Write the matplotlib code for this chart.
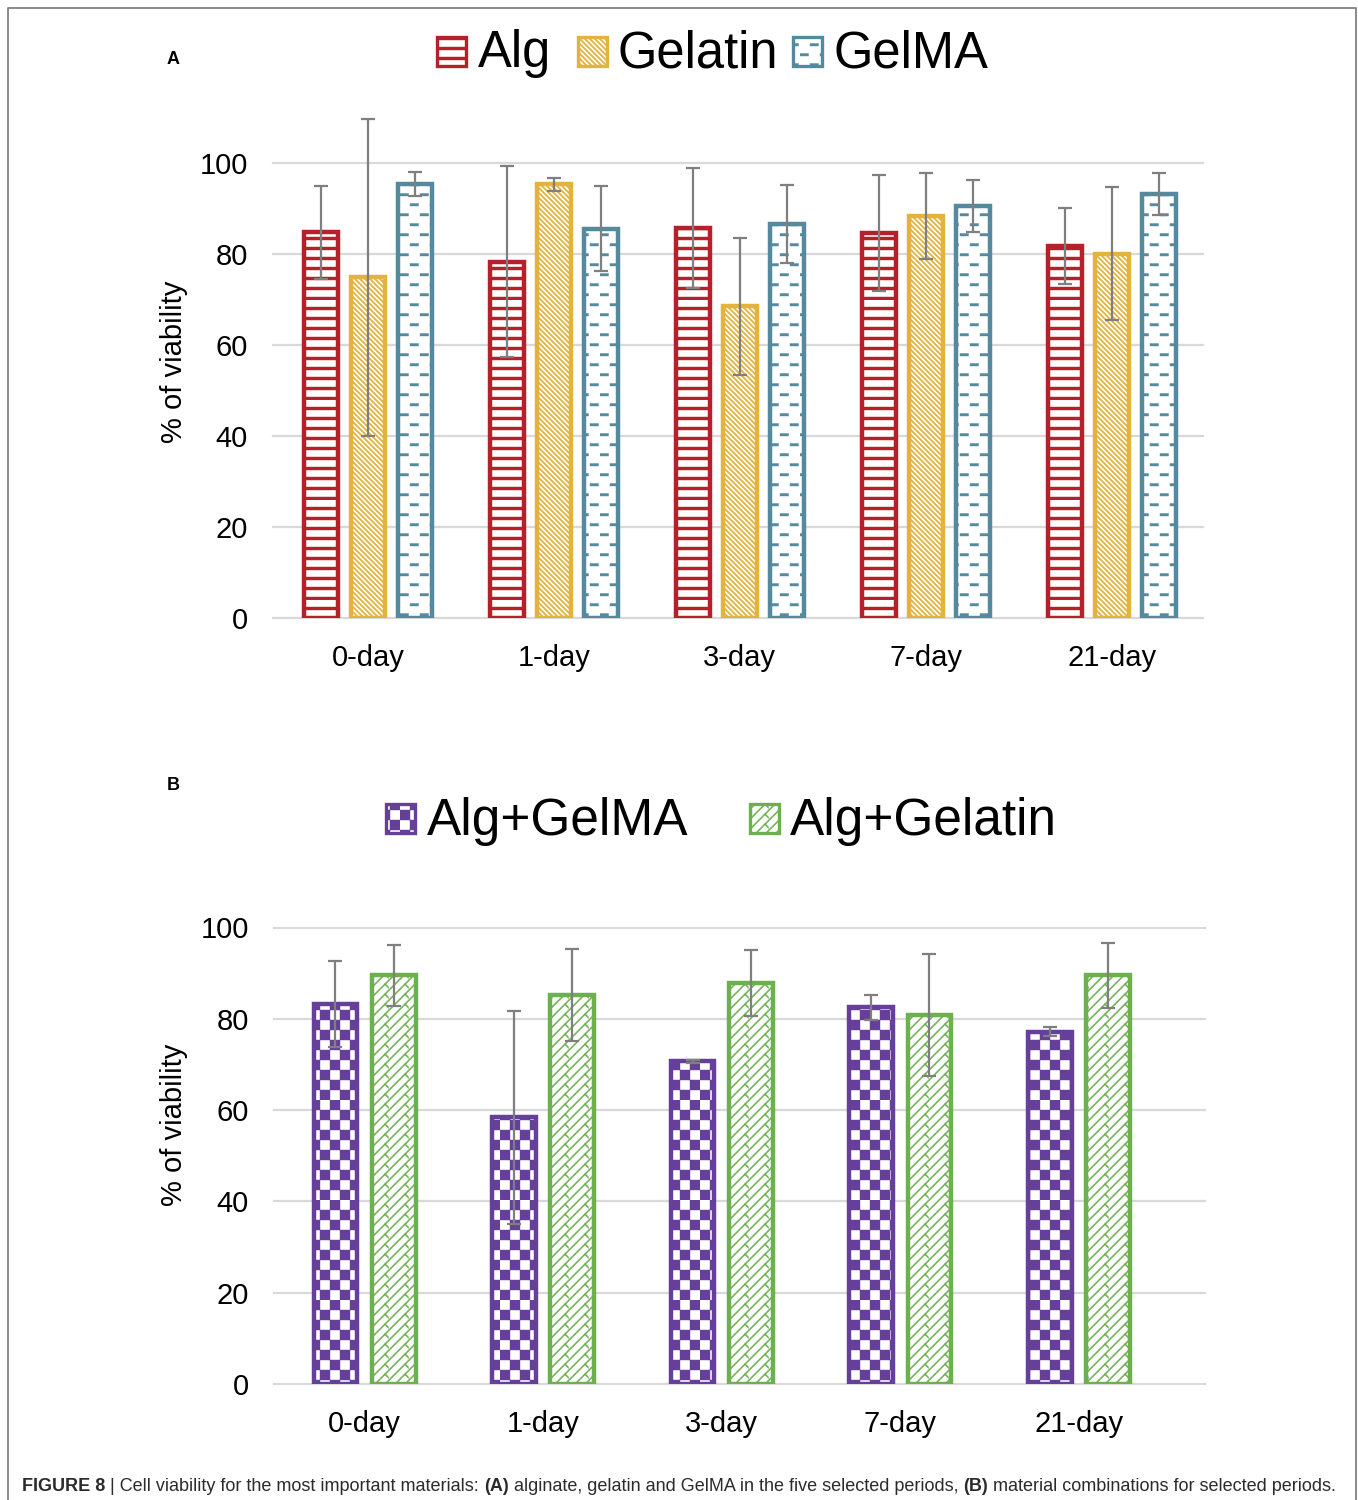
import warnings
warnings.filterwarnings('ignore')
import numpy as np
import matplotlib
matplotlib.use('Agg')
import matplotlib.pyplot as plt
import matplotlib.hatch as mhatch
from matplotlib.path import Path
from matplotlib.patches import Rectangle
from matplotlib.lines import Line2D

# ---------------- data ----------------
days = ['0-day', '1-day', '3-day', '7-day', '21-day']

alg = [84.8, 78.3, 85.7, 84.6, 81.8]
alg_err = [10.2, 21.0, 13.2, 12.7, 8.3]
gelatin = [74.9, 95.3, 68.5, 88.3, 80.1]
gelatin_err = [34.8, 1.5, 15.0, 9.5, 14.6]
gelma = [95.4, 85.6, 86.6, 90.5, 93.2]
gelma_err = [2.7, 9.4, 8.6, 5.7, 4.6]

alg_gelma = [83.2, 58.4, 70.7, 82.5, 77.2]
alg_gelma_err = [9.4, 23.3, 0.3, 2.7, 1.0]
alg_gelatin = [89.5, 85.2, 87.8, 80.9, 89.5]
alg_gelatin_err = [6.7, 10.0, 7.2, 13.4, 7.2]

series_a_names = ['Alg', 'Gelatin', 'GelMA']
series_b_names = ['Alg+GelMA', 'Alg+Gelatin']
yticks = [0, 20, 40, 60, 80, 100]
ylabel = '% of viability'

# ---------------- custom filled hatch patterns ----------------
mhatch._validate_hatch_pattern = lambda h: None


class _FilledHatch(mhatch.HatchPatternBase):
    char = '?'

    def __init__(self, hatch, density):
        self.polys = self.shapes() if (hatch and self.char in hatch) else []
        self.num_vertices = sum(len(p) + 1 for p in self.polys)

    def shapes(self):
        return []

    def set_vertices_and_codes(self, vertices, codes):
        i = 0
        for p in self.polys:
            n = len(p)
            vertices[i:i + n] = p
            vertices[i + n] = p[0]
            codes[i] = Path.MOVETO
            codes[i + 1:i + n] = Path.LINETO
            codes[i + n] = Path.CLOSEPOLY
            i += n + 1


def _rect(x0, y0, x1, y1):
    return [(x0, y0), (x1, y0), (x1, y1), (x0, y1)]


class HLines(_FilledHatch):          # Alg: thick horizontal lines
    char = 'a'

    def shapes(self):
        return [_rect(-0.05, i * 0.1, 1.05, i * 0.1 + 0.03) for i in range(10)]


class BackDiag(_FilledHatch):        # Gelatin: dense "\" diagonals
    char = 'g'

    def shapes(self):
        t = 0.02
        out = []
        for k in range(0, 41):
            c = k * 0.05
            out.append([(0, c), (1, c - 1), (1, c - 1 + t), (0, c + t)])
        return out


class Dashes(_FilledHatch):          # GelMA: dashed horizontal lines
    char = 'm'

    def shapes(self):
        out = []
        for i in range(10):
            y0 = i * 0.1 + 0.04
            off = 0.1 * (i % 2)
            for j in range(5):
                x0 = j * 0.2 + off
                out.append(_rect(x0, y0, x0 + 0.085, y0 + 0.025))
        return out


class Checker(_FilledHatch):         # Alg+GelMA: checkerboard
    char = 'c'

    def shapes(self):
        out = []
        for i in range(10):
            for j in range(10):
                if (i + j) % 2 == 0:
                    out.append(_rect(j * 0.1, i * 0.1, (j + 1) * 0.1, (i + 1) * 0.1))
        return out


class ZigDiag(_FilledHatch):         # Alg+Gelatin: "/" lines with small spurs
    char = 'z'

    def shapes(self):
        t = 0.016
        out = []
        for k in range(-11, 12):
            c = k * 0.1
            out.append([(0, c), (1, c + 1), (1, c + 1 + t), (0, c + t)])
            for m in range(0, 6):
                x = m * 0.2 + 0.05
                y = x + c
                L = 0.035
                out.append([(x, y), (x + L, y - L), (x + L, y - L + t), (x, y + t)])
        return out


mhatch._hatch_types.extend([HLines, BackDiag, Dashes, Checker, ZigDiag])

# ---------------- styling ----------------
W, H, DPI = 1358, 1500, 100
plt.rcParams['font.family'] = ['Liberation Sans', 'DejaVu Sans']
plt.rcParams['hatch.linewidth'] = 0.3

RED, GOLD, TEAL = '#B5202A', '#E3B33E', '#55899D'
PURPLE, GREEN = '#663F9B', '#6DB04F'
styles_a = [(RED, 'a'), (GOLD, 'g'), (TEAL, 'm')]
styles_b = [(PURPLE, 'c'), (GREEN, 'z')]

fig = plt.figure(figsize=(W / DPI, H / DPI), dpi=DPI)
fig.patch.set_facecolor('white')


def px(x, y):
    return x / W, 1 - y / H


def axes_rect(l, t, r, b):
    return [l / W, 1 - b / H, (r - l) / W, (b - t) / H]


def panel(ax, vals_list, errs_list, styles, offsets, width, xlim):
    x = np.arange(len(days))
    for vals, errs, (col, hat), off in zip(vals_list, errs_list, styles, offsets):
        ax.bar(x + off, vals, width, facecolor='white', edgecolor=col,
               linewidth=3.2, hatch=hat, zorder=2)
        eb = ax.errorbar(x + off, vals, yerr=errs, fmt='none', ecolor='#7F7F7F',
                         elinewidth=1.6, capsize=5, capthick=1.6, zorder=3)
        for a in eb.get_children():
            a.set_clip_on(False)
    ax.set_xlim(*xlim)
    ax.set_ylim(0, 100)
    ax.set_xticks(x)
    ax.set_xticklabels(days)
    ax.set_yticks(yticks)
    ax.set_yticklabels([str(v) for v in yticks])
    ax.tick_params(axis='x', length=0, pad=19, labelsize=21, labelcolor='black')
    ax.tick_params(axis='y', length=0, pad=18, labelsize=21, labelcolor='black')
    for s in ax.spines.values():
        s.set_visible(False)
    ax.set_axisbelow(True)
    ax.yaxis.grid(True, color='#D9D9D9', linewidth=1.6)
    for gl in ax.yaxis.get_gridlines():
        gl.set_clip_on(False)
    ax.set_ylabel(ylabel, fontsize=21)


axA = fig.add_axes(axes_rect(273, 163, 1203, 618))
panel(axA, [alg, gelatin, gelma], [alg_err, gelatin_err, gelma_err], styles_a,
      [-0.252, 0.0, 0.252], 0.182, (-0.51, 4.49))
axA.yaxis.set_label_coords(-0.0914, 0.563)

axB = fig.add_axes(axes_rect(274, 927.5, 1205, 1384))
panel(axB, [alg_gelma, alg_gelatin], [alg_gelma_err, alg_gelatin_err], styles_b,
      [-0.163, 0.163], 0.245, (-0.507, 4.706))
axB.yaxis.set_label_coords(-0.0924, 0.567)


# ---------------- legends (manual, figure-level) ----------------
def legend_item(name, col, hat, patch_x, text_x, top, size, base, fs):
    r = Rectangle(px(patch_x, top + size), size / W, size / H, transform=fig.transFigure,
                  facecolor='white', edgecolor=col, linewidth=2.4, hatch=hat)
    fig.add_artist(r)
    fig.text(*px(text_x, base), name, fontsize=fs, ha='left', va='baseline', color='black')


for name, (col, hat), pxx, tx in zip(series_a_names, styles_a, [437, 578, 793], [478, 618, 833]):
    legend_item(name, col, hat, pxx, tx, 37, 29, 67, 36.5)
for name, (col, hat), pxx, tx in zip(series_b_names, styles_b, [386, 750], [427, 790]):
    legend_item(name, col, hat, pxx, tx, 804, 29, 835, 37)

# panel letters
fig.text(*px(173, 60), 'A', fontsize=13, fontweight='bold', ha='center', va='center')
fig.text(*px(173, 785), 'B', fontsize=13, fontweight='bold', ha='center', va='center')

# border
fig.add_artist(Line2D([8 / W, 8 / W, 1356 / W, 1356 / W], [0, 1 - 8 / H, 1 - 8 / H, 0],
                      transform=fig.transFigure, color='#808080', linewidth=1.3))

# ---------------- caption ----------------
caption = [('FIGURE 8', 'bold'), (' | Cell viability for the most important materials: ', 'normal'),
           ('(A)', 'bold'), (' alginate, gelatin and GelMA in the five selected periods, ', 'normal'),
           ('(B)', 'bold'), (' material combinations for selected periods.', 'normal')]
renderer = fig.canvas.get_renderer()


def text_width(s, weight, fs):
    t1 = fig.text(0, 0, 'x' + s + 'x', fontsize=fs, fontweight=weight)
    t2 = fig.text(0, 0, 'xx', fontsize=fs, fontweight=weight)
    w = t1.get_window_extent(renderer).width - t2.get_window_extent(renderer).width
    t1.remove()
    t2.remove()
    return w


fs0 = 11.0
total = sum(text_width(s, w, fs0) for s, w in caption)
fs = fs0 * (1312.0 / total)
xcur = 22.0
for s, w in caption:
    fig.text(*px(xcur, 1491), s, fontsize=fs, fontweight=w, ha='left', va='baseline',
             color='#2b2b2b')
    xcur += text_width(s, w, fs)

fig.savefig('out.png', dpi=DPI, facecolor='white')
